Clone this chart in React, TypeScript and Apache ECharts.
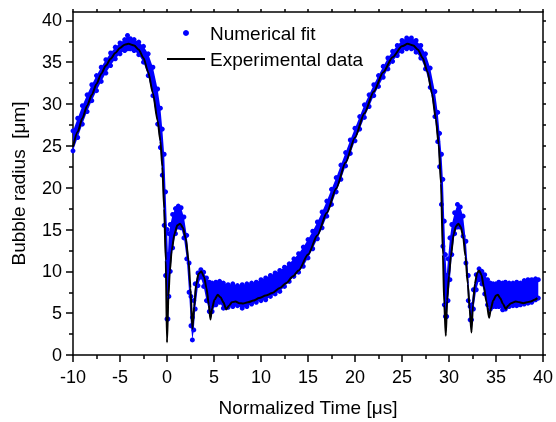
import React, { useEffect, useRef } from 'react';
import * as echarts from 'echarts';

// Experimental data (black line)
const expT = [
  -10, -9.5, -9, -8.5, -8, -7.5, -7, -6.5, -6, -5.5, -5, -4.5, -4.1, -3.5, -3, -2.5, -2, -1.5, -1, -0.7, -0.5, -0.3, -0.13, 0,
  0.15, 0.3, 0.5, 0.8, 1.1, 1.4, 1.7, 2.0, 2.3, 2.5, 2.7, 2.9, 3.1, 3.35, 3.65, 3.95, 4.2, 4.45, 4.62, 4.8, 5.05, 5.4, 5.7,
  6.0, 6.3, 6.6, 6.9, 7.3, 7.7, 8.1, 8.6, 9.2, 9.8, 10.5, 11.2, 12.0, 12.7, 13.4, 14.0, 15.0, 16.0, 17.0, 18.0, 19.0, 20.0,
  21.0, 22.0, 23.0, 24.0, 25.0, 25.6, 26.2, 26.7, 27.2, 27.7, 28.2, 28.6, 28.9, 29.15, 29.35, 29.5, 29.66, 29.8, 30.0, 30.2,
  30.5, 30.75, 31.0, 31.25, 31.5, 31.75, 32.0, 32.2, 32.39, 32.55, 32.75, 33.0, 33.2, 33.45, 33.7, 34.0, 34.27, 34.45, 34.7,
  35.0, 35.2, 35.45, 35.75, 36.04, 36.3, 36.6, 37.1, 37.5, 37.9, 38.3, 38.7, 39.1, 39.4,
];
const expV = [
  24.9, 26.7, 28.3, 29.8, 31.1, 32.4, 33.6, 34.6, 35.4, 36.1, 36.7, 37.1, 37.2, 37.0, 36.5, 35.5, 33.8, 31.3, 28.0, 25.6, 22.5, 17.5, 11.3, 1.5,
  7.0, 10.0, 12.5, 14.5, 15.5, 15.7, 15.2, 13.9, 11.2, 8.0, 3.1, 5.8, 8.4, 9.7, 10.0, 9.3, 8.0, 6.0, 4.25, 5.6, 6.6, 7.2, 6.9,
  6.3, 5.45, 5.9, 6.3, 6.4, 6.2, 6.15, 6.3, 6.5, 6.8, 7.1, 7.4, 8.0, 8.6, 9.4, 10.1, 12.0, 14.3, 17.0, 19.9, 23.0, 26.0,
  28.9, 31.5, 33.8, 35.6, 36.9, 37.2, 37.0, 36.5, 35.5, 33.9, 31.2, 28.2, 25.2, 20.5, 12.0, 6.0, 2.3, 6.5, 9.5, 11.8,
  14.5, 15.4, 15.7, 15.3, 14.2, 11.8, 8.5, 5.5, 2.7, 6.0, 8.5, 9.8, 10.1, 9.6, 8.2, 6.3, 4.45, 5.5, 6.5,
  7.1, 7.2, 6.8, 6.1, 5.5, 5.9, 6.2, 6.4, 6.3, 6.2, 6.3, 6.4, 6.6, 6.8,
];

// Numerical fit (blue points): read as the upper and lower edge of the dotted band
const fitT = [
  -10, -9.5, -9, -8.5, -8, -7.5, -7, -6.5, -6, -5.5, -5, -4.5, -4.2, -3.9, -3.5, -3, -2.5, -2, -1.5, -1, -0.7, -0.5, -0.3, -0.15,
  0.0, 0.1, 0.2, 0.35, 0.6, 0.9, 1.2, 1.5, 1.8, 2.1, 2.35, 2.55, 2.7, 2.85, 3.0, 3.3, 3.6, 3.9, 4.2, 4.5, 4.8, 5.2, 5.6,
  6.0, 6.5, 7.0, 7.5, 8.0, 8.5, 9.0, 9.5, 10, 10.5, 11, 11.5, 12, 12.5, 13, 13.5, 14, 14.5, 15, 15.5, 16, 16.5, 17, 17.5,
  18, 18.5, 19, 19.5, 20, 20.5, 21, 21.5, 22, 22.5, 23, 23.5, 24, 24.5, 25, 25.5, 26, 26.5, 27, 27.5, 28, 28.5, 28.8, 29.0,
  29.2, 29.35, 29.5, 29.62, 29.75, 29.9, 30.1, 30.3, 30.6, 30.9, 31.2, 31.5, 31.8, 32.05, 32.25, 32.4, 32.6, 32.9, 33.2,
  33.5, 33.8, 34.1, 34.4, 34.7, 35.0, 35.3, 35.7, 36.0, 36.4, 36.8, 37.2, 37.6, 38.0, 38.4, 38.8, 39.2, 39.5,
];
const fitUpper = [
  26.8, 28.3, 29.8, 31.1, 32.3, 33.4, 34.4, 35.3, 36.1, 36.8, 37.3, 37.7, 38.2, 37.8, 37.7, 37.4, 36.9, 36.0, 34.4, 31.8, 29.5, 27.0, 24.0, 19.5,
  15.0, 12.0, 14.5, 15.6, 16.8, 17.5, 17.8, 17.6, 16.5, 14.3, 11.0, 7.0, 4.5, 6.5, 8.5, 9.8, 10.2, 9.9, 9.2, 8.7, 8.6, 8.7, 8.8,
  8.6, 8.4, 8.5, 8.3, 8.4, 8.5, 8.6, 8.7, 9.0, 9.2, 9.5, 9.8, 10.1, 10.5, 10.9, 11.5, 12.1, 12.9, 13.8, 14.8, 15.9, 17.1, 18.4, 19.8,
  21.2, 22.7, 24.2, 25.7, 27.1, 28.5, 29.9, 31.1, 32.3, 33.4, 34.5, 35.5, 36.3, 37.0, 37.6, 37.9, 37.9, 37.6, 37.0, 36.0, 34.3, 31.5, 29.0, 26.5,
  24.0, 21.0, 16.0, 12.0, 9.5, 11.5, 14.0, 15.6, 17.0, 18.0, 17.7, 16.6, 13.6, 9.5, 5.8, 6.0, 7.8, 9.6, 10.3,
  10.0, 9.6, 9.0, 8.6, 8.5, 8.5, 8.7, 8.6, 8.7, 8.6, 8.6, 8.7, 8.6, 8.9, 9.0, 9.0, 9.1, 9.0,
];
const fitLower = [
  24.4, 26.0, 27.6, 29.1, 30.4, 31.6, 32.7, 33.7, 34.6, 35.4, 36.0, 36.4, 36.6, 36.6, 36.4, 35.9, 35.0, 33.4, 31.0, 27.6, 24.8, 21.5, 15.5, 9.5,
  4.3, 4.3, 7.0, 10.0, 12.8, 14.5, 15.3, 15.2, 14.0, 11.5, 7.5, 3.5, 1.8, 3.0, 5.5, 8.3, 9.3, 8.2, 6.5, 5.2, 5.2, 6.0, 6.3,
  5.6, 5.7, 5.8, 5.9, 5.6, 5.8, 6.1, 6.3, 6.5, 6.6, 7.0, 7.3, 7.6, 8.2, 8.8, 9.4, 9.9, 10.6, 11.6, 12.7, 13.9, 15.2, 16.6, 18.0,
  19.5, 21.0, 22.6, 24.1, 25.6, 27.0, 28.4, 29.7, 31.0, 32.1, 33.2, 34.2, 35.1, 35.8, 36.3, 36.6, 36.6, 36.2, 35.5, 34.2, 32.0, 28.5, 25.5, 22.5,
  18.0, 13.0, 6.0, 4.6, 4.6, 6.5, 9.0, 12.0, 14.5, 15.3, 15.3, 14.2, 11.0, 6.5, 4.2, 4.2, 5.5, 7.8, 9.0,
  8.5, 7.3, 6.0, 5.5, 5.8, 5.8, 5.8, 5.4, 5.5, 5.8, 5.9, 5.9, 6.0, 6.1, 6.2, 6.3, 6.6, 6.8,
];

const yMajorTicks = [0, 5, 10, 15, 20, 25, 30, 35, 40];
const yMinorTicks = [2.5, 7.5, 12.5, 17.5, 22.5, 27.5, 32.5, 37.5];
const yFrameTicks = [0, 2.5, 5, 7.5, 10, 12.5, 15, 17.5, 20, 22.5, 25, 27.5, 30, 32.5, 35, 37.5, 40];

const BLUE = '#0000ff';
const FONT = '"Liberation Sans", Arial, Helvetica, sans-serif';

export default function App() {
  const ref = useRef<HTMLDivElement>(null);
  useEffect(() => {
    const chart = echarts.init(ref.current!, null, { renderer: 'svg' });
    const line = { color: '#000', width: 1.5 };
    const option: any = {
      animation: false,
      textStyle: { fontFamily: FONT },
      grid: { left: 73, right: 12, top: 12, bottom: 63, containLabel: false },
      legend: {
        orient: 'vertical',
        left: 166,
        top: 23,
        padding: 0,
        itemWidth: 38,
        itemHeight: 6,
        itemGap: 6,
        textStyle: { fontSize: 19, color: '#000', fontFamily: FONT, lineHeight: 20 },
        data: [
          { name: 'Numerical fit', icon: 'circle' },
          { name: 'Experimental data', itemStyle: { opacity: 0 } },
        ],
      },
      xAxis: [
        {
          type: 'value', min: -10, max: 40, interval: 5, position: 'bottom',
          axisLine: { onZero: false, lineStyle: line },
          axisTick: { show: true, inside: false, length: 7, lineStyle: line },
          minorTick: { show: true, splitNumber: 2, length: 4, lineStyle: line },
          axisLabel: { fontSize: 18, color: '#000', margin: 13, fontFamily: FONT },
          splitLine: { show: false }, minorSplitLine: { show: false },
          name: 'Normalized Time [μs]', nameLocation: 'middle', nameGap: 43,
          nameTextStyle: { fontSize: 19, color: '#000', fontFamily: FONT },
        },
        {
          type: 'value', min: -10, max: 40, interval: 2.5, position: 'top',
          axisLine: { onZero: false, lineStyle: line },
          axisTick: { show: true, inside: false, length: 3, lineStyle: line },
          axisLabel: { show: false }, splitLine: { show: false },
        },
      ],
      yAxis: [
        {
          type: 'value', min: 0, max: 41, position: 'left',
          axisLine: { show: true, onZero: false, lineStyle: line },
          axisTick: { show: true, inside: false, length: 7, customValues: yMajorTicks, lineStyle: line },
          axisLabel: { customValues: yMajorTicks, fontSize: 18, color: '#000', margin: 11, fontFamily: FONT },
          splitLine: { show: false },
          name: 'Bubble radius  [μm]', nameLocation: 'middle', nameGap: 45,
          nameTextStyle: { fontSize: 19, color: '#000', fontFamily: FONT },
        },
        {
          type: 'value', min: 0, max: 41, position: 'left',
          axisLine: { show: false, onZero: false },
          axisTick: { show: true, inside: false, length: 4, customValues: yMinorTicks, lineStyle: line },
          axisLabel: { show: false }, splitLine: { show: false },
        },
        {
          type: 'value', min: 0, max: 41, position: 'right',
          axisLine: { show: true, onZero: false, lineStyle: line },
          axisTick: { show: true, inside: false, length: 3, customValues: yFrameTicks, lineStyle: line },
          axisLabel: { show: false }, splitLine: { show: false },
        },
      ],
      series: [
        {
          name: 'Numerical fit',
          type: 'scatter',
          symbol: 'circle',
          symbolSize: 5,
          itemStyle: { color: BLUE, opacity: 1 },
          z: 3,
          data: fitT.flatMap((t, i) => [[t, fitUpper[i]], [t, fitLower[i]]]),
        },
        {
          name: 'Numerical fit',
          type: 'custom',
          z: 2,
          itemStyle: { color: BLUE },
          data: fitT.map((t, i) => [t, fitUpper[i], fitLower[i]]),
          encode: { x: 0, y: [1, 2] },
          renderItem: (params: any, api: any) => {
            if (params.dataIndex !== 0) return null;
            const top = fitT.map((t, i) => api.coord([t, fitUpper[i]]));
            const bot = fitT.map((t, i) => api.coord([t, fitLower[i]])).reverse();
            return { type: 'polygon', shape: { points: top.concat(bot) }, style: { fill: BLUE } };
          },
        },
        {
          name: 'Experimental data',
          type: 'line',
          symbol: 'none',
          smooth: 0.25,
          smoothMonotone: 'x',
          z: 5,
          lineStyle: { color: '#000', width: 2 },
          itemStyle: { color: '#000' },
          data: expT.map((t, i) => [t, expV[i]]),
        },
      ],
    };
    chart.setOption(option);
    return () => chart.dispose();
  }, []);
  return <div ref={ref} style={{ position: 'fixed', left: 0, top: 0, width: 556, height: 422 }} />;
}
